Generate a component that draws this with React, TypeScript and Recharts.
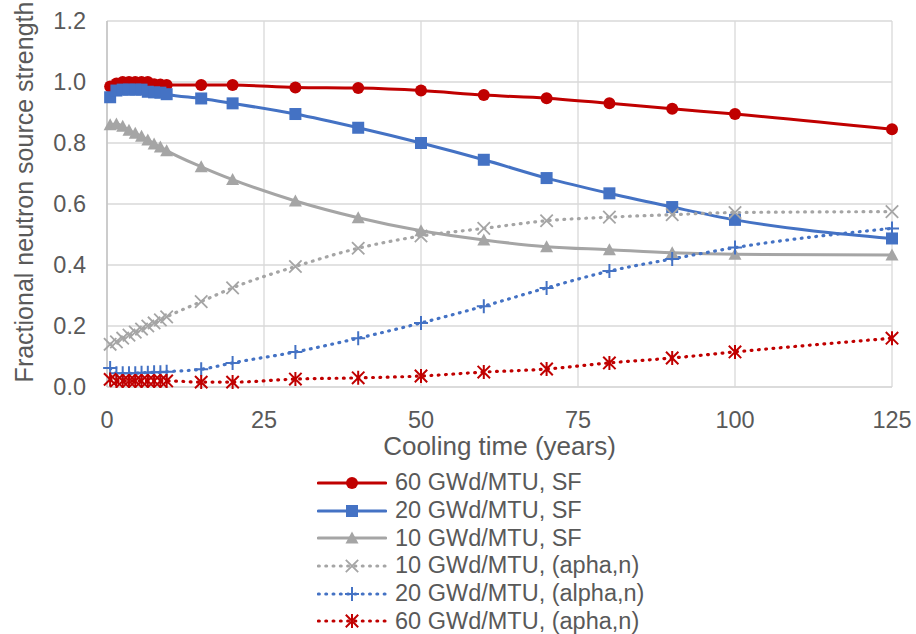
import React from "react";
import { LineChart, Line, XAxis, YAxis, CartesianGrid, Legend } from "recharts";

// cooling time (years)
const years = [0.5, 1.5, 2.5, 3.5, 4.5, 5.5, 6.5, 7.5, 8.5, 9.5, 15, 20, 30, 40, 50, 60, 70, 80, 90, 100, 125];

const sf60 = [0.985, 0.995, 1.0, 1.0, 1.0, 1.0, 1.0, 0.993, 0.992, 0.99, 0.99, 0.99, 0.982, 0.98, 0.972, 0.957, 0.947, 0.93, 0.912, 0.895, 0.845];
const sf20 = [0.95, 0.972, 0.975, 0.975, 0.975, 0.975, 0.968, 0.966, 0.965, 0.96, 0.946, 0.93, 0.895, 0.85, 0.8, 0.745, 0.685, 0.635, 0.59, 0.548, 0.487];
const sf10 = [0.86, 0.862, 0.855, 0.842, 0.832, 0.822, 0.81, 0.797, 0.787, 0.775, 0.722, 0.68, 0.61, 0.555, 0.512, 0.482, 0.46, 0.45, 0.44, 0.435, 0.433];
const an10 = [0.14, 0.148, 0.16, 0.17, 0.18, 0.19, 0.2, 0.21, 0.22, 0.23, 0.28, 0.325, 0.395, 0.455, 0.495, 0.52, 0.545, 0.557, 0.565, 0.572, 0.575];
const an20 = [0.062, 0.045, 0.045, 0.045, 0.045, 0.047, 0.047, 0.048, 0.048, 0.05, 0.058, 0.079, 0.115, 0.16, 0.21, 0.265, 0.325, 0.38, 0.42, 0.457, 0.52];
const an60 = [0.025, 0.02, 0.02, 0.02, 0.02, 0.02, 0.02, 0.02, 0.02, 0.02, 0.016, 0.016, 0.026, 0.03, 0.036, 0.049, 0.059, 0.079, 0.095, 0.115, 0.16];

const xTicks = [0, 25, 50, 75, 100, 125];
const yTicks = [0, 0.2, 0.4, 0.6, 0.8, 1.0, 1.2];

const RED = "#C00000";
const BLUE = "#4472C4";
const GRAY = "#A5A5A5";
const TEXT = "#595959";
const FONT = "'Liberation Sans', Arial, sans-serif";
const DOTS = "0.8 6.5";

const data = years.map((x, i) => ({
  x,
  sf60: sf60[i],
  sf20: sf20[i],
  sf10: sf10[i],
  an10: an10[i],
  an20: an20[i],
  an60: an60[i],
}));

type Shape = "circle" | "square" | "triangle" | "cross" | "plus" | "star";

function Marker({ shape, cx, cy, color }: { shape: Shape; cx: number; cy: number; color: string }) {
  if (shape === "circle") return <circle cx={cx} cy={cy} r={6} fill={color} />;
  if (shape === "square") return <rect x={cx - 6} y={cy - 6} width={12} height={12} fill={color} />;
  if (shape === "triangle")
    return <path d={`M${cx},${cy - 6.5}L${cx + 6.5},${cy + 5.5}L${cx - 6.5},${cy + 5.5}Z`} fill={color} />;
  const s = 6.2;
  if (shape === "cross")
    return (
      <path d={`M${cx - s},${cy - s}L${cx + s},${cy + s}M${cx - s},${cy + s}L${cx + s},${cy - s}`} stroke={color} strokeWidth={1.8} fill="none" />
    );
  if (shape === "plus")
    return (
      <path d={`M${cx - 7},${cy}L${cx + 7},${cy}M${cx},${cy - 7}L${cx},${cy + 7}`} stroke={color} strokeWidth={2} fill="none" />
    );
  return (
    <path
      d={`M${cx - s},${cy - s}L${cx + s},${cy + s}M${cx - s},${cy + s}L${cx + s},${cy - s}M${cx},${cy - 7}L${cx},${cy + 7}`}
      stroke={color}
      strokeWidth={2}
      fill="none"
    />
  );
}

const dotFor = (shape: Shape, color: string) => (p: any) =>
  <Marker key={`${shape}-${p.index}`} shape={shape} cx={p.cx} cy={p.cy} color={color} />;

const seriesList: { key: string; name: string; color: string; shape: Shape; dotted: boolean }[] = [
  { key: "sf60", name: "60 GWd/MTU, SF", color: RED, shape: "circle", dotted: false },
  { key: "sf20", name: "20 GWd/MTU, SF", color: BLUE, shape: "square", dotted: false },
  { key: "sf10", name: "10 GWd/MTU, SF", color: GRAY, shape: "triangle", dotted: false },
  { key: "an10", name: "10 GWd/MTU, (apha,n)", color: GRAY, shape: "cross", dotted: true },
  { key: "an20", name: "20 GWd/MTU, (alpha,n)", color: BLUE, shape: "plus", dotted: true },
  { key: "an60", name: "60 GWd/MTU, (apha,n)", color: RED, shape: "star", dotted: true },
];

function LegendBox() {
  return (
    <div style={{ fontFamily: FONT, fontSize: 23.5, color: TEXT, height: 165 }}>
      {seriesList.map((s) => (
        <div key={s.key} style={{ display: "flex", alignItems: "center", height: 27.7 }}>
          <svg width={70} height={20} style={{ marginRight: 8 }}>
            <line
              x1={1.5}
              y1={10}
              x2={68.5}
              y2={10}
              stroke={s.color}
              strokeWidth={3.2}
              strokeLinecap="round"
              strokeDasharray={s.dotted ? DOTS : undefined}
            />
            <Marker shape={s.shape} cx={35} cy={10} color={s.color} />
          </svg>
          <span style={{ whiteSpace: "nowrap", lineHeight: "27px" }}>{s.name}</span>
        </div>
      ))}
    </div>
  );
}

function YTitle() {
  return (
    <text
      x={24}
      y={192}
      transform="rotate(-90, 24, 192)"
      textAnchor="middle"
      dominantBaseline="central"
      fill={TEXT}
      fontSize={25}
      fontFamily={FONT}
    >
      Fractional neutron source strength
    </text>
  );
}

export default function App() {
  const tickStyle = { fontSize: 23.5, fill: TEXT, fontFamily: FONT };
  return (
    <div style={{ position: "absolute", left: 0, top: 0, width: 916, height: 634, background: "#fff" }}>
      <LineChart width={916} height={634} data={data} margin={{ top: 21, right: 24, left: 0, bottom: 0 }}>
        <CartesianGrid stroke="#D9D9D9" strokeWidth={1.3} horizontalValues={yTicks} verticalValues={xTicks} />
        <XAxis
          dataKey="x"
          type="number"
          domain={[0, 125]}
          ticks={xTicks}
          height={82}
          tick={tickStyle}
          tickLine={false}
          tickSize={0}
          tickMargin={24}
          axisLine={{ stroke: "#D9D9D9", strokeWidth: 1.3 }}
          label={{ value: "Cooling time (years)", position: "insideBottom", offset: 14, fill: TEXT, fontSize: 26, fontFamily: FONT }}
        />
        <YAxis
          type="number"
          domain={[0, 1.2]}
          ticks={yTicks}
          width={107}
          tick={tickStyle}
          tickFormatter={(v: number) => v.toFixed(1)}
          tickLine={false}
          tickSize={0}
          tickMargin={21}
          axisLine={{ stroke: "#BFBFBF", strokeWidth: 1.3 }}
          label={{ content: () => <YTitle /> }}
        />
        <Legend
          verticalAlign="bottom"
          align="center"
          content={() => <LegendBox />}
          wrapperStyle={{ left: 317, bottom: 0, width: 420, height: 165 }}
        />
        {seriesList.map((s) => (
          <Line
            key={s.key}
            dataKey={s.key}
            name={s.name}
            type="monotone"
            stroke={s.color}
            strokeWidth={s.dotted ? 3.2 : 3}
            strokeLinecap="round"
            strokeDasharray={s.dotted ? DOTS : undefined}
            dot={dotFor(s.shape, s.color)}
            activeDot={false}
            isAnimationActive={false}
          />
        ))}
      </LineChart>
    </div>
  );
}
